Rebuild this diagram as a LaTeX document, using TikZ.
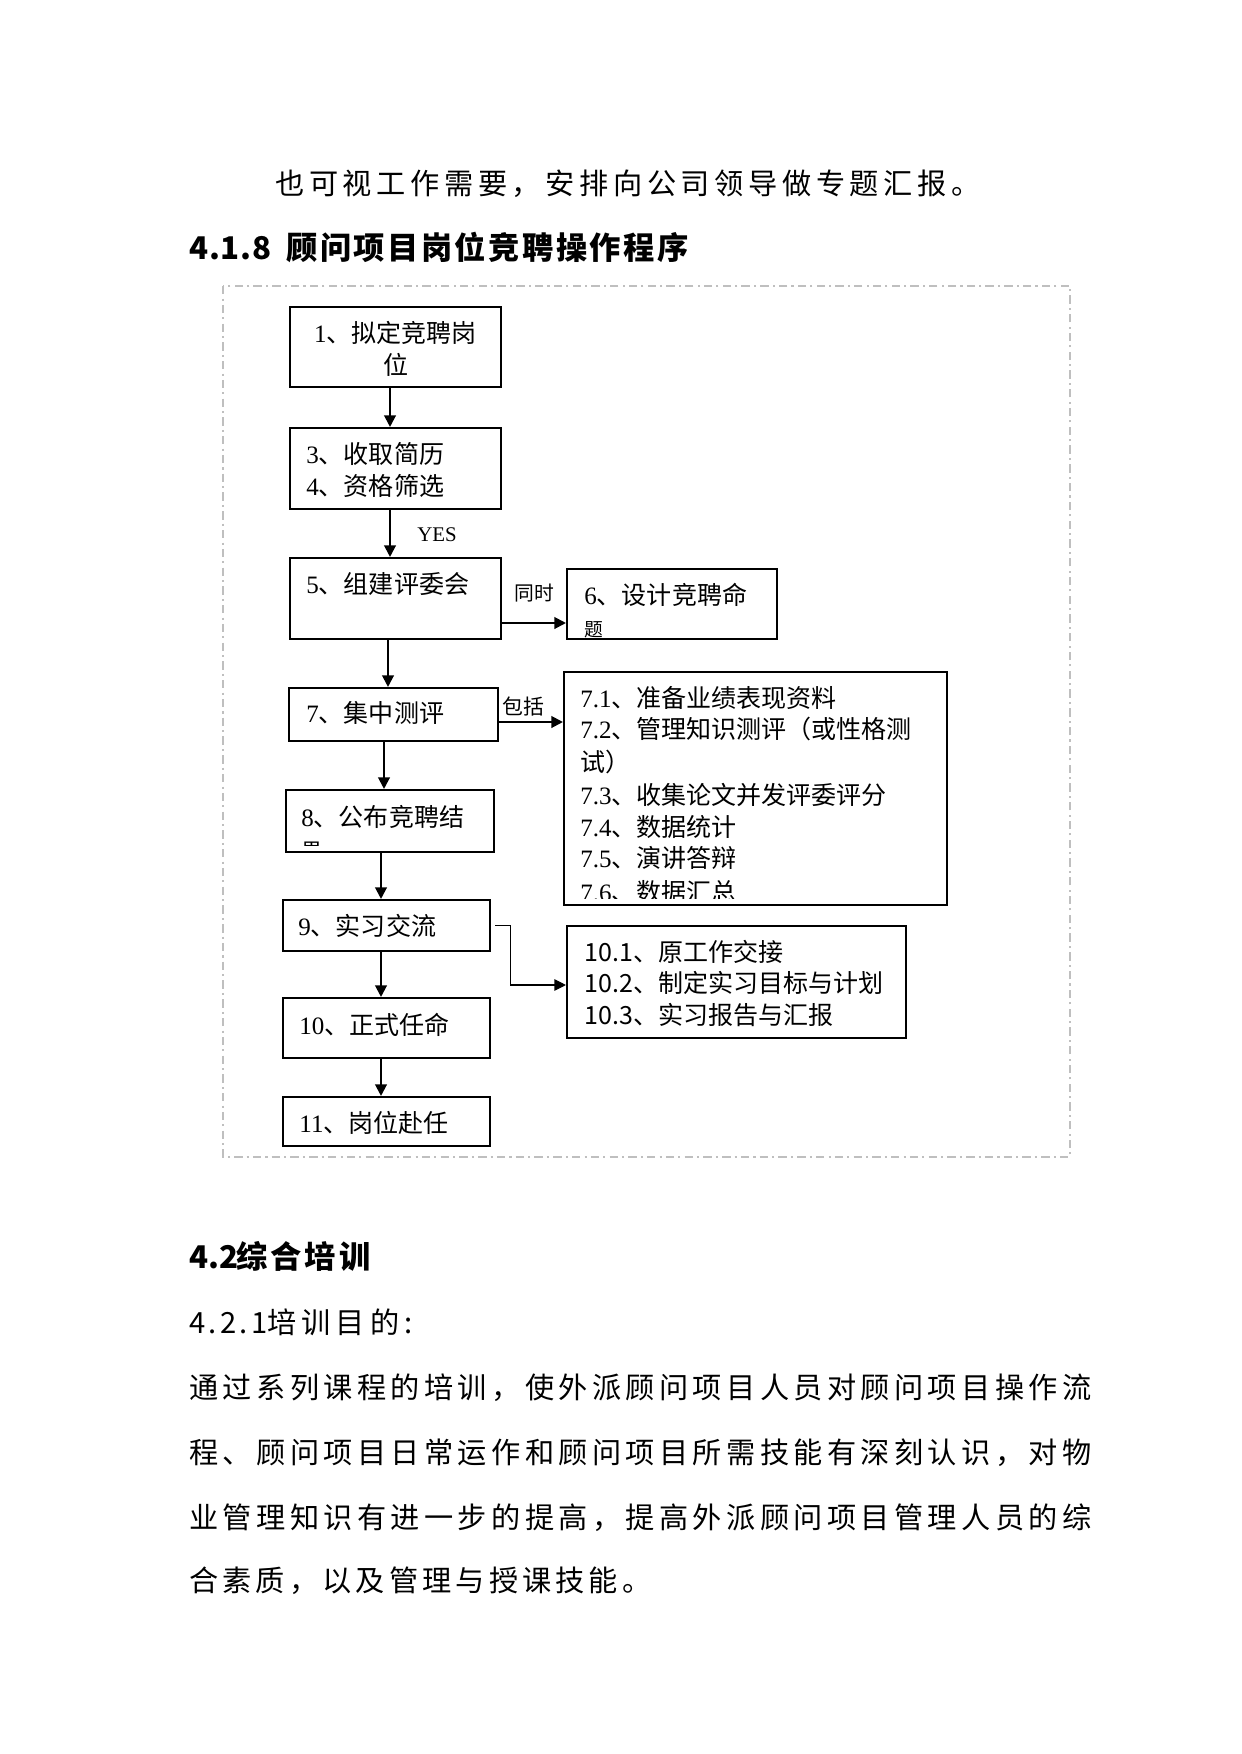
\documentclass[tikz,border=0pt]{standalone}
\usepackage{fontspec}
\setmainfont{Noto Sans CJK SC}
\newfontfamily\lat{Liberation Serif}
\usetikzlibrary{arrows.meta}
\newdimen\PX \PX=0.4795pt
\makeatletter
\newcommand\spreadto[2]{\hbox to #1{\let\sp@sep\relax\@tfor\sp@ch:=#2\do{\sp@sep\sp@ch\let\sp@sep\hfil}}}
\makeatother
\newcommand\latn[1]{{\lat #1}}
\tikzset{
  bx/.style={draw, line width=1pt, inner sep=0pt},
  arr/.style={line width=1pt, -{Triangle[length=5.5pt,width=5.5pt]}},
  thinarr/.style={line width=0.5pt, -{Triangle[length=5.5pt,width=5.5pt]}},
  txt/.style={inner sep=0pt, font=\fontsize{12}{14}\selectfont, text height=10.5pt, text depth=1.5pt},
  body/.style={inner sep=0pt, anchor=west, font=\fontsize{14}{16}\selectfont, text height=12.3pt, text depth=1.7pt},
  head/.style={inner sep=0pt, anchor=west, font=\fontsize{15}{17}\selectfont\bfseries, text height=13.2pt, text depth=1.8pt},
  lbl/.style={inner sep=0pt},
  frame/.style={draw=gray!50, line width=0.5pt, dash pattern=on 4pt off 2pt on 1pt off 2pt}
}
\begin{document}
\begin{tikzpicture}[x=0.4795pt, y=-0.4795pt]
\useasboundingbox (0,0) rectangle (1241,1754);

% text above
\node[body] (p0) at (275,183) {\spreadto{705\PX}{也可视工作需要，安排向公司领导做专题汇报。}};
\node[head] (h1a) at (189,248) {\spreadto{82\PX}{4.1.8}};
\node[head] (h1b) at (286,248) {\spreadto{402\PX}{顾问项目岗位竞聘操作程序}};

% frame
\draw[frame] (223,286) rectangle (1070,1157);

% boxes
\node[bx, minimum width=211\PX, minimum height=80\PX] (b1) at (395.5,347) {};
\node[bx, minimum width=211\PX, minimum height=81\PX] (b2) at (395.5,468.5) {};
\node[bx, minimum width=211\PX, minimum height=81\PX] (b5) at (395.5,598.5) {};
\node[bx, minimum width=210\PX, minimum height=70\PX] (b6) at (672,604) {};
\node[bx, minimum width=209\PX, minimum height=53\PX] (b7) at (393.5,714.5) {};
\node[bx, minimum width=383\PX, minimum height=233\PX] (b7x) at (755.5,788.5) {};
\node[bx, minimum width=208\PX, minimum height=62\PX] (b8) at (390,821) {};
\node[bx, minimum width=207\PX, minimum height=51\PX] (b9) at (386.5,925.5) {};
\node[bx, minimum width=339\PX, minimum height=112\PX] (b10x) at (736.5,982) {};
\node[bx, minimum width=207\PX, minimum height=60\PX] (b10) at (386.5,1028) {};
\node[bx, minimum width=207\PX, minimum height=49\PX] (b11) at (386.5,1121.5) {};

% box texts
\node[txt] (t1a) at (395.5,333) {\latn{1}、拟定竞聘岗};
\node[txt] (t1b) at (396,365) {位};
\node[txt, anchor=west] (t2a) at (306,454) {\latn{3}、收取简历};
\node[txt, anchor=west] (t2b) at (306,486) {\latn{4}、资格筛选};
\node[txt, anchor=west] (t5) at (306,584) {\latn{5}、组建评委会};
\node[txt, anchor=west] (t6a) at (584,595) {\latn{6}、设计竞聘命};
\node[txt, anchor=west, font=\fontsize{9}{11}\selectfont] (t6b) at (584,627) {题};
\node[txt, anchor=west] (t7) at (306,713) {\latn{7}、集中测评};
\begin{scope}
\clip (565,673) rectangle (946,898);
\node[txt, anchor=west] (t71) at (580,698) {\latn{7.1}、准备业绩表现资料};
\node[txt, anchor=west] (t72) at (580,729) {\latn{7.2}、管理知识测评（或性格测};
\node[txt, anchor=west] (t72b) at (580,762) {试）};
\node[txt, anchor=west] (t73) at (580,795) {\latn{7.3}、收集论文并发评委评分};
\node[txt, anchor=west] (t74) at (580,827) {\latn{7.4}、数据统计};
\node[txt, anchor=west] (t75) at (580,858) {\latn{7.5}、演讲答辩};
\node[txt, anchor=west] (t76) at (580,892) {\latn{7.6}、数据汇总};
\end{scope}
\node[txt, anchor=west] (t8) at (301,817) {\latn{8}、公布竞聘结};
\begin{scope}
\clip (287,791) rectangle (493,845);
\node[txt, anchor=west, font=\fontsize{10}{12}\selectfont] (t8b) at (301,849) {果};
\end{scope}
\node[txt, anchor=west] (t9) at (298,926) {\latn{9}、实习交流};
\node[txt, anchor=west] (t101) at (584,952) {10.1、原工作交接};
\node[txt, anchor=west] (t102) at (584,983) {10.2、制定实习目标与计划};
\node[txt, anchor=west] (t103) at (584,1015) {10.3、实习报告与汇报};
\node[txt, anchor=west] (t10) at (299,1025) {\latn{10}、正式任命};
\node[txt, anchor=west] (t11) at (299,1123) {\latn{11}、岗位赴任};

% labels
\node[lbl, font=\lat\fontsize{10}{12}\selectfont] (yes) at (437,535) {YES};
\node[lbl, font=\fontsize{9.5}{11}\selectfont] (tongshi) at (534,593) {同时};
\node[lbl, font=\fontsize{10}{12}\selectfont] (baokuo) at (523,707) {包括};

% connectors
\draw[arr] ([xshift=-5.5\PX]b1.south) -- ([xshift=-5.5\PX]b1.south |- b2.north);
\draw[arr] ([xshift=-5.5\PX]b2.south) -- ([xshift=-5.5\PX]b2.south |- b5.north);
\draw[arr] ([xshift=-7.5\PX]b5.south) -- ([xshift=-7.5\PX]b5.south |- b7.north);
\draw[arr] ([xshift=-9.5\PX]b7.south) -- ([xshift=-9.5\PX]b7.south |- b8.north);
\draw[arr] ([xshift=-9\PX]b8.south) -- ([xshift=-9\PX]b8.south |- b9.north);
\draw[arr] ([xshift=-5.5\PX]b9.south) -- ([xshift=-5.5\PX]b9.south |- b10.north);
\draw[arr] ([xshift=-5.5\PX]b10.south) -- ([xshift=-5.5\PX]b10.south |- b11.north);
\draw[arr] ([yshift=-24.5\PX]b5.east) -- ([yshift=-24.5\PX]b5.east -| b6.west);
\draw[arr] ([yshift=-7.5\PX]b7.east) -- ([yshift=-7.5\PX]b7.east -| b7x.west);
\draw[thinarr] ([xshift=4\PX]b9.east) -- ++(15,0) |- ([yshift=-3\PX]b10x.west);

% text below
\node[head] (h2a) at (189,1257) {\spreadto{47\PX}{4.2}};
\node[head] (h2b) at (236,1257) {\spreadto{134\PX}{综合培训}};
\node[body] (s1a) at (189,1322) {\spreadto{78\PX}{4.2.1}};
\node[body] (s1b) at (267,1322) {\spreadto{145\PX}{培训目的:}};
\node[body] (l1) at (189,1387) {\spreadto{902\PX}{通过系列课程的培训，使外派顾问项目人员对顾问项目操作流}};
\node[body] (l2) at (189,1452) {\spreadto{902\PX}{程、顾问项目日常运作和顾问项目所需技能有深刻认识，对物}};
\node[body] (l3) at (189,1517) {\spreadto{902\PX}{业管理知识有进一步的提高，提高外派顾问项目管理人员的综}};
\node[body] (l4) at (189,1580) {\spreadto{462\PX}{合素质，以及管理与授课技能。}};
\end{tikzpicture}
\end{document}
